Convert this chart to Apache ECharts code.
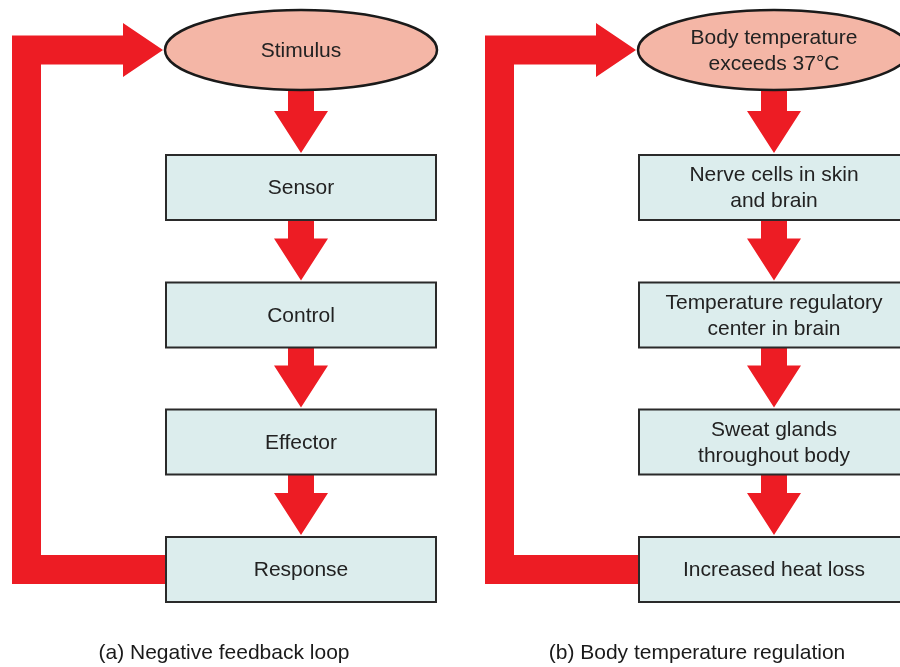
<!DOCTYPE html>
<html>
<head>
<meta charset="utf-8">
<script src="https://cdn.jsdelivr.net/npm/echarts@6/dist/echarts.min.js"></script>
<style>
  html, body { margin: 0; padding: 0; background: #fff; }
  #chart { width: 900px; height: 667px; }
</style>
</head>
<body>
<div id="chart"></div>
<script>
// column centres and stage centres (diagram units = pixels of the 900x667 frame)
const columnX = [301, 774];
const stageY = [50, 187.5, 315, 442, 569.5];
const stagesA = ["Stimulus", "Sensor", "Control", "Effector", "Response"];
const stagesB = [
  "Body temperature\nexceeds 37°C",
  "Nerve cells in skin\nand brain",
  "Temperature regulatory\ncenter in brain",
  "Sweat glands\nthroughout body",
  "Increased heat loss",
];
const captions = ["(a) Negative feedback loop", "(b) Body temperature regulation"];
const captionX = [224, 697];
const captionY = 653;

const RED = "#ED1C24";
const FONT = "21px 'Liberation Sans', Arial, Helvetica, sans-serif";
const BOX_W = 270, BOX_H = 65; // box size
const ELL_RX = 136, ELL_RY = 40; // stimulus ellipse

const chartInstance = echarts.init(document.getElementById("chart"));

// node data: [x, y, column, stage]
const nodeData = [];
const arrowData = [];
const loopData = [];
columnX.forEach((x, c) => {
  stageY.forEach((y, i) => {
    nodeData.push([x, y, c, i]);
    if (i < stageY.length - 1) {
      const from = i === 0 ? y + ELL_RY : y + BOX_H / 2;
      const to = stageY[i + 1] - BOX_H / 2 - 2;
      arrowData.push([x, from, to]);
    }
  });
  loopData.push([x, stageY[0], stageY[stageY.length - 1]]);
});

function renderNode(params, api) {
  const c = api.value(2), i = api.value(3);
  const p = api.coord([api.value(0), api.value(1)]);
  const text = (c === 0 ? stagesA : stagesB)[i];
  let shape;
  if (i === 0) {
    const r = api.size([ELL_RX, ELL_RY]);
    shape = {
      type: "ellipse",
      shape: { cx: p[0], cy: p[1], rx: r[0], ry: r[1] },
      style: { fill: "#F4B6A6", stroke: "#1a1a1a", lineWidth: 2.5 },
    };
  } else {
    const s = api.size([BOX_W, BOX_H]);
    shape = {
      type: "rect",
      shape: { x: p[0] - s[0] / 2, y: p[1] - s[1] / 2, width: s[0], height: s[1] },
      style: { fill: "#DCEDED", stroke: "#2a2a2a", lineWidth: 2 },
    };
  }
  return {
    type: "group",
    children: [
      shape,
      {
        type: "text",
        style: {
          text: text, x: p[0], y: p[1] + 1,
          align: "center", verticalAlign: "middle",
          font: FONT, lineHeight: 26, fill: "#222",
        },
      },
    ],
  };
}

// big red downward arrow between stages
function renderArrow(params, api) {
  const x = api.value(0);
  const top = api.coord([x, api.value(1)]);
  const tip = api.coord([x, api.value(2)]);
  const d = api.size([13, 42]);
  const hw = api.size([27, 0])[0];
  const base = tip[1] - d[1];
  return {
    type: "polygon",
    shape: {
      points: [
        [top[0] - d[0], top[1]], [top[0] + d[0], top[1]],
        [top[0] + d[0], base], [top[0] + hw, base],
        [tip[0], tip[1]],
        [top[0] - hw, base], [top[0] - d[0], base],
      ],
    },
    style: { fill: RED },
  };
}

// feedback path from the last stage back to the stimulus
function renderLoop(params, api) {
  const cx = api.value(0), yT = api.value(1), yB = api.value(2);
  const hw = 14.5, W = 29;
  const L = cx - 289, headBase = cx - 178, tip = cx - 138, boxLeft = cx - 131;
  const pts = [
    [L, yT - hw], [headBase, yT - hw], [headBase, yT - 27], [tip, yT],
    [headBase, yT + 27], [headBase, yT + hw], [L + W, yT + hw],
    [L + W, yB - hw], [boxLeft, yB - hw], [boxLeft, yB + hw], [L, yB + hw],
  ].map((q) => api.coord(q));
  return { type: "polygon", shape: { points: pts }, style: { fill: RED } };
}

function renderCaption(params, api) {
  const p = api.coord([api.value(0), api.value(1)]);
  return {
    type: "text",
    style: {
      text: captions[params.dataIndex], x: p[0], y: p[1],
      align: "center", verticalAlign: "middle", font: FONT, fill: "#1a1a1a",
    },
  };
}

let option = {
  animation: false,
  grid: { left: 0, right: 0, top: 0, bottom: 0 },
  xAxis: { type: "value", min: 0, max: 900, show: false },
  yAxis: { type: "value", min: 0, max: 667, inverse: true, show: false },
  series: [
    { type: "custom", renderItem: renderLoop, data: loopData, encode: { x: 0, y: 1 } },
    { type: "custom", renderItem: renderArrow, data: arrowData, encode: { x: 0, y: 1 } },
    { type: "custom", renderItem: renderNode, data: nodeData, encode: { x: 0, y: 1 } },
    {
      type: "custom", renderItem: renderCaption,
      data: captionX.map((x) => [x, captionY]), encode: { x: 0, y: 1 },
    },
  ],
};
chartInstance.setOption(option);
</script>
</body>
</html>
